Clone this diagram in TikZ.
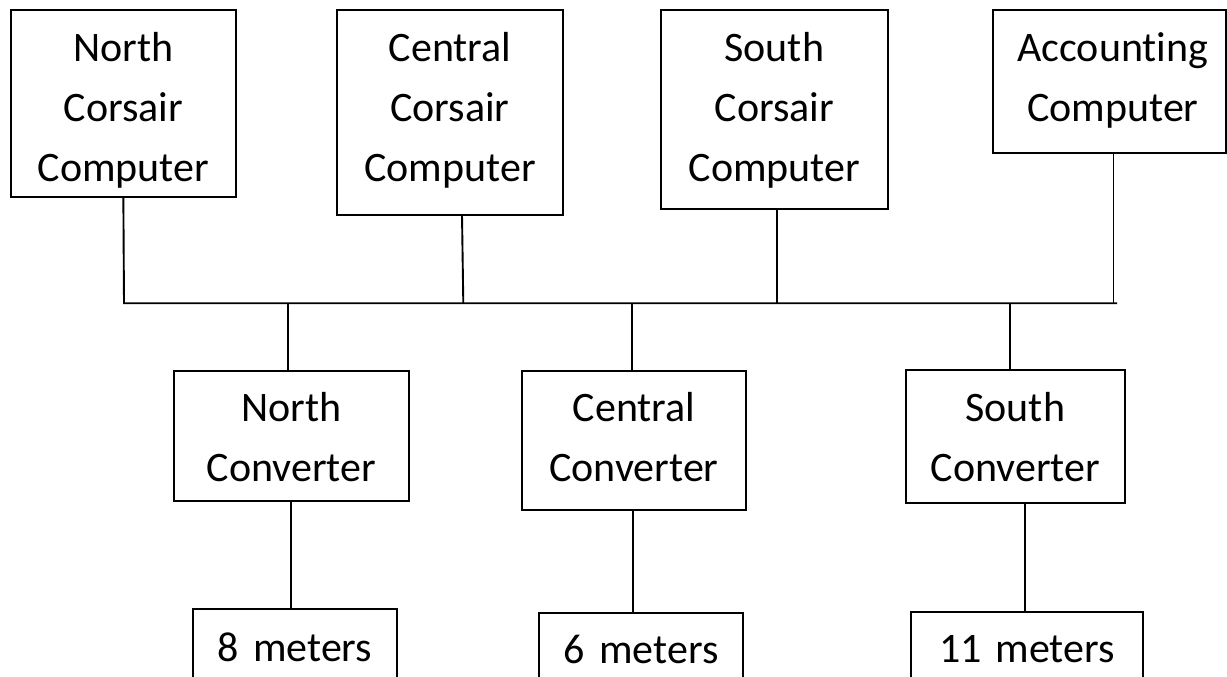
\documentclass[tikz,border=0pt]{standalone}
\usepackage{fontspec}
\setmainfont{Carlito}[Ligatures=NoCommon]
\begin{document}
\begin{tikzpicture}[x=1pt, y=-1pt,
  unit/.style={draw, line width=1.7pt, inner sep=0pt, outer sep=0pt,
    anchor=north west, align=center,
    font=\fontsize{42}{60}\selectfont, text height=51pt},
  wire/.style={line width=1.9pt}]
\useasboundingbox (0,0) rectangle (1227,677);
\clip (0,0) rectangle (1227,677);

% computers on the top row
\node[unit, text width=224.7pt, text depth=135.7pt] (ncc) at (11,10.3)
  {North\\Corsair\\Computer};
\node[unit, text width=226.6pt, text depth=153.7pt] (ccc) at (336.7,10.3)
  {Central\\Corsair\\Computer};
\node[unit, text width=226.7pt, text depth=148pt] (scc) at (661,10.3)
  {South\\Corsair\\Computer};
\node[unit, text width=233pt, text depth=92pt] (acc) at (992.7,10.3)
  {\hspace*{7.4pt}Accounting\\\hspace*{7.4pt}Computer};

% converters
\node[unit, text width=235.6pt, text depth=79.3pt] (nconv) at (173.7,370.7)
  {North\\Converter};
\node[unit, text width=224.6pt, text depth=88.3pt] (cconv) at (521.7,370.7)
  {Central\\Converter};
\node[unit, text width=219.3pt, text depth=81.4pt] (sconv) at (905.7,370.3)
  {South\\Converter};

% cable lengths
\node[unit, text width=204pt, text height=52pt, text depth=60pt] (m8) at (193,609)
  {8 meters};
\node[unit, text width=203.7pt, text height=50.6pt, text depth=60pt] (m6) at (539.3,612.7)
  {6 meters};
\node[unit, text width=231.7pt, text height=50.6pt, text depth=60pt] (m11) at (911,611.7)
  {11 meters};

% shared bus
\coordinate (busL) at (124,303.2);
\coordinate (busR) at (1117,303.2);
\draw[wire] (ncc.south) -- (busL) -- (busR);
\draw[wire] ([xshift=12pt]ccc.south) -- ([xshift=13.3pt]ccc.south |- busL);
\draw[wire] ([xshift=2.7pt]scc.south) -- ([xshift=2.7pt]scc.south |- busL);
\draw[wire] ([xshift=4.3pt]acc.south) -- ([xshift=4.3pt]acc.south |- busL);

% bus to converters
\draw[wire] ([xshift=-3.8pt]nconv.north) -- ([xshift=-3.8pt]nconv.north |- busL);
\draw[wire] ([xshift=-1.7pt]cconv.north) -- ([xshift=-1.7pt]cconv.north |- busL);
\draw[wire] ([xshift=-5.3pt]sconv.north) -- ([xshift=-5.3pt]sconv.north |- busL);

% converters to cable lengths
\draw[wire] ([xshift=-0.5pt]nconv.south) -- ([xshift=-0.5pt]nconv.south |- m8.north);
\draw[wire] ([xshift=-0.7pt]cconv.south) -- ([xshift=-0.7pt]cconv.south |- m6.north);
\draw[wire] ([xshift=9.7pt]sconv.south) -- ([xshift=9.7pt]sconv.south |- m11.north);
\end{tikzpicture}
\end{document}
